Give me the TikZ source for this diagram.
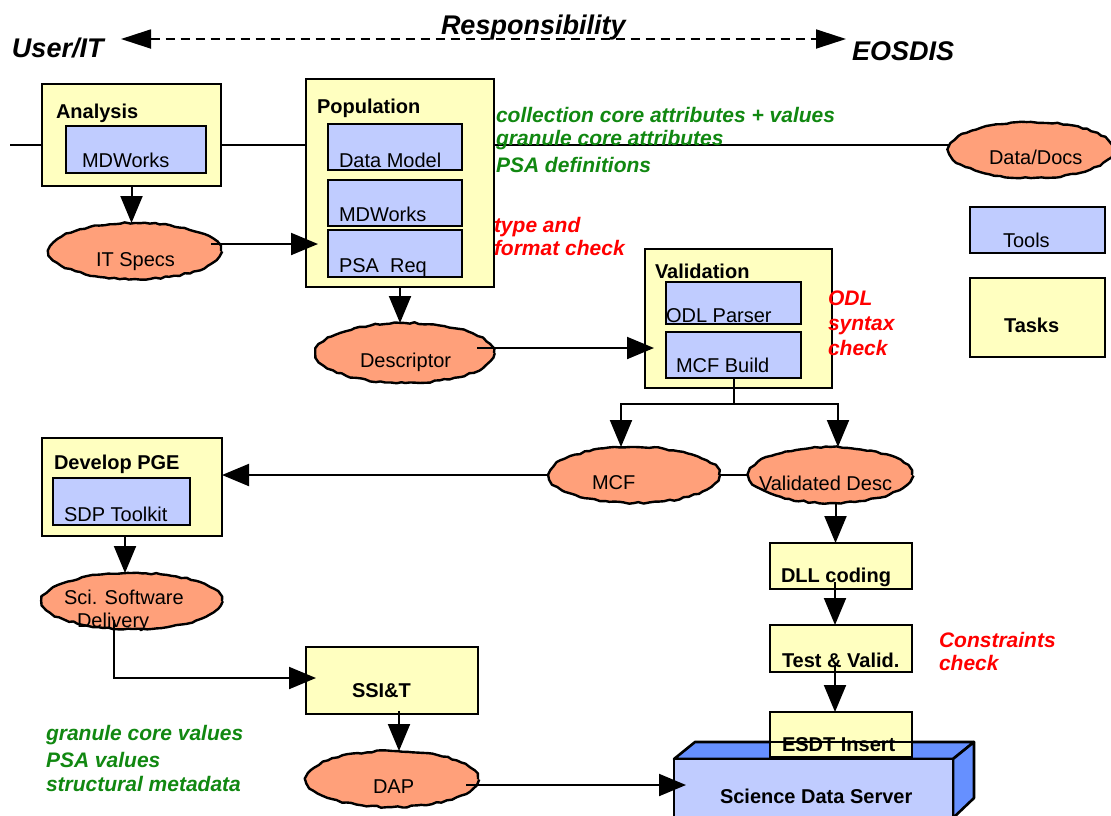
\documentclass[tikz,border=0pt]{standalone}
\usepackage{fontspec}
\setmainfont{Liberation Sans}
\usetikzlibrary{arrows.meta,shapes.geometric,decorations.pathmorphing,calc,backgrounds}
\definecolor{taskfill}{HTML}{FFFFC0}
\definecolor{toolfill}{HTML}{C0CCFF}
\definecolor{blobfill}{HTML}{FFA07A}
\definecolor{sdsside}{HTML}{6690FF}
\definecolor{notegreen}{HTML}{118811}
\definecolor{notered}{HTML}{FF0000}
\begin{document}
\pgfmathsetseed{11}
\begin{tikzpicture}[x=1pt,y=-1pt,
  every node/.style={inner sep=0pt, outer sep=0pt},
  task/.style={rectangle, draw, line width=2.6pt, fill=taskfill},
  tool/.style={rectangle, draw, line width=2.6pt, fill=toolfill},
  blob/.style={ellipse, draw, line width=2.4pt, fill=blobfill, line join=round,
    decorate, decoration={random steps, segment length=5pt, amplitude=0.9pt}},
  txt/.style={font=\fontsize{20}{24}\selectfont, anchor=base west},
  ttl/.style={font=\fontsize{20}{24}\selectfont\bfseries, anchor=base west},
  big/.style={font=\fontsize{27}{32}\selectfont\bfseries\itshape, anchor=base west},
  gnote/.style={font=\fontsize{21}{24}\selectfont\bfseries\itshape, text=notegreen, anchor=base west},
  rnote/.style={font=\fontsize{21}{24}\selectfont\bfseries\itshape, text=notered, anchor=base west},
  conn/.style={line width=2pt},
  arr/.style={conn, -{Triangle[length=27pt,width=22pt]}},
]
\useasboundingbox (0,0) rectangle (1111,815);
\clip (0,0) rectangle (1111,815);

% ---- heading: responsibility scale
\node[big] (userit) at (12,57) {User/IT};
\node[big] (resp) at (441,34) {Responsibility};
\node[big] (eosdis) at (852,60) {EOSDIS};
\coordinate (respL) at (121,39);
\coordinate (respR) at (846,39);
\draw[line width=1.8pt, dash pattern=on 9pt off 6pt,
  {Triangle[length=30pt,width=19pt]}-{Triangle[length=30pt,width=19pt]}] (respL) -- (respR);

% ---- analysis
\node[task, minimum width=179pt, minimum height=102pt] (analysis) at (131.5,135) {};
\node[ttl] (analysisT) at (56,118) {Analysis};
\node[tool, minimum width=140pt, minimum height=47pt] (mdw1) at (136,149.5) {};
\node[txt] (mdw1T) at (82,167) {MDWorks};

% ---- population
\node[task, minimum width=188pt, minimum height=208pt] (population) at (400,183) {};
\node[ttl] (populationT) at (317,113) {Population};
\node[tool, minimum width=134pt, minimum height=46pt] (datamodel) at (395,147) {};
\node[txt] (datamodelT) at (339,167) {Data Model};
\node[tool, minimum width=134pt, minimum height=46pt] (mdw2) at (395,203) {};
\node[txt] (mdw2T) at (339,221) {MDWorks};
\node[tool, minimum width=134pt, minimum height=47pt] (psareq) at (395,253.5) {};
\node[txt] (psareqT) at (339,272) {PSA\ \ Req};

% ---- data objects
\node[blob, minimum width=172pt, minimum height=56pt] (itspecs) at (135,251) {};
\node[txt] (itspecsT) at (96,266) {IT Specs};
\node[blob, minimum width=178pt, minimum height=60pt] (descriptor) at (405,353) {};
\node[txt] (descriptorT) at (360,367) {Descriptor};
\node[blob, minimum width=164pt, minimum height=56pt] (datadocs) at (1031,150) {};
\node[txt] (datadocsT) at (989,164) {Data/Docs};

% ---- legend
\node[tool, minimum width=135pt, minimum height=46pt] (tools) at (1037.5,230) {};
\node[txt] (toolsT) at (1003,247) {Tools};
\node[task, minimum width=135pt, minimum height=79pt] (tasks) at (1037.5,317.5) {};
\node[ttl] (tasksT) at (1004,332) {Tasks};

% ---- validation
\node[task, minimum width=187pt, minimum height=139pt] (validation) at (738.5,318.5) {};
\node[ttl] (validationT) at (655,278) {Validation};
\node[tool, minimum width=135pt, minimum height=42pt] (odlparser) at (733.5,303) {};
\node[txt] (odlparserT) at (666,322) {ODL Parser};
\node[tool, minimum width=135pt, minimum height=46pt] (mcfbuild) at (733.5,355) {};
\node[txt] (mcfbuildT) at (676,372) {MCF Build};

\node[blob, minimum width=170pt, minimum height=56pt] (mcf) at (634,475) {};
\node[txt] (mcfT) at (592,489) {MCF};
\node[blob, minimum width=163pt, minimum height=56pt] (valdesc) at (830.5,475) {};
\node[txt] (valdescT) at (759,490) {Validated Desc};

% ---- ESDT chain
\node[task, minimum width=142pt, minimum height=46pt] (dll) at (841,566) {};
\node[ttl] (dllT) at (781,582) {DLL coding};
\node[task, minimum width=142pt, minimum height=47pt] (test) at (841,648.5) {};
\node[ttl] (testT) at (782,667) {Test \& Valid.};

% ---- science data server (box drawn in perspective)
\filldraw[fill=sdsside, line width=2.6pt, line join=round]
  (674,759) -- (695,742) -- (974,742) -- (953,759) -- cycle;
\filldraw[fill=sdsside, line width=2.6pt, line join=round]
  (953,759) -- (974,742) -- (974,798) -- (953,818) -- cycle;
\node[tool, minimum width=279pt, minimum height=59pt] (server) at (813.5,788.5) {};
\node[ttl] (serverT) at (720,803) {Science Data Server};
\node[task, minimum width=142pt, minimum height=45pt] (esdt) at (841,734.5) {};
\node[ttl] (esdtT) at (782,751) {ESDT Insert};
\draw[line width=2.6pt] (695,742) -- (974,742);

% ---- PGE development
\node[task, minimum width=180pt, minimum height=98pt] (developpge) at (132,487) {};
\node[ttl] (developpgeT) at (54,469) {Develop PGE};
\node[tool, minimum width=137pt, minimum height=47pt] (sdptoolkit) at (121.5,501.5) {};
\node[txt] (sdptoolkitT) at (64,521) {SDP Toolkit};
\node[blob, minimum width=180pt, minimum height=56pt] (sci) at (132,601) {};
\node[txt] (sciT1) at (64,604) {Sci. Software};
\node[txt] (sciT2) at (77,627) {Delivery};
\node[task, minimum width=172pt, minimum height=67pt] (ssit) at (392,680.5) {};
\node[ttl] (ssitT) at (352,697) {SSI\&T};
\node[blob, minimum width=172pt, minimum height=56pt] (dap) at (392,779) {};
\node[txt] (dapT) at (373,793) {DAP};

% ---- notes
\node[gnote] (g1) at (496,122) {collection core attributes + values};
\node[gnote] (g2) at (496,145) {granule core attributes};
\node[gnote] (g3) at (496,172) {PSA definitions};
\node[gnote] (g4) at (46,740) {granule core values};
\node[gnote] (g5) at (46,767) {PSA values};
\node[gnote] (g6) at (46,791) {structural metadata};
\node[rnote] (r1) at (494,232) {type and};
\node[rnote] (r2) at (494,255) {format check};
\node[rnote] (r3) at (828,305) {ODL};
\node[rnote] (r4) at (828,330) {syntax};
\node[rnote] (r5) at (828,355) {check};
\node[rnote] (r6) at (939,647) {Constraints};
\node[rnote] (r7) at (939,670) {check};

% ---- main data line, behind the task boxes
\coordinate (lineStart) at (10,145);
\begin{scope}[on background layer]
  \fill[white] (0,0) rectangle (1111,815);
  \draw[conn] (lineStart) -- (lineStart -| datadocs.west);
\end{scope}

% ---- connectors
\draw[arr] (analysis.south) -- (analysis.south |- itspecs.north);
\draw[arr, shorten >=-12pt] ($(itspecs.east)+(-10,-7)$) -- ($(itspecs.east -| population.west)+(0,-7)$);
\draw[arr] (population.south) -- (population.south |- descriptor.north);
\draw[arr, shorten >=-9pt] ($(descriptor.east)+(-17,-5)$) -- ($(descriptor.east -| validation.west)+(0,-5)$);

\coordinate (split) at (734,404);
\coordinate (splitL) at (621,404);
\coordinate (splitR) at (838,404);
\draw[conn] (mcfbuild.south -| split) -- (split);
\draw[arr] (split) -- (splitL) -- (splitL |- mcf.north);
\draw[arr] (split) -- (splitR) -- (splitR |- valdesc.north);

\draw[conn] (valdesc.west) -- (mcf.east);
\draw[arr] (mcf.west) -- (mcf.west -| developpge.east);

\draw[arr] ($(valdesc.south)+(5,0)$) -- ($(valdesc.south |- dll.north)+(5,0)$);
\draw[arr] ($(dll.south)+(-6,-7)$) -- ($(test.north)+(-6,0)$);
\draw[arr] ($(test.south)+(-6,-6)$) -- ($(esdt.north)+(-6,0)$);

\draw[arr] ($(developpge.south)+(-7,0)$) -- ($(sci.north)+(-7,0)$);
\draw[arr, shorten >=-10pt] ($(sci.south)+(-18,-9)$) |- ($(ssit.west)+(0,-2.5)$);
\draw[arr] ($(ssit.south)+(7,-3)$) -- ($(dap.north)+(7,0)$);
\draw[arr, shorten >=-12pt] ($(dap.east)+(-12,6)$) -- ($(dap.east -| server.west)+(0,6)$);
\end{tikzpicture}
\end{document}
